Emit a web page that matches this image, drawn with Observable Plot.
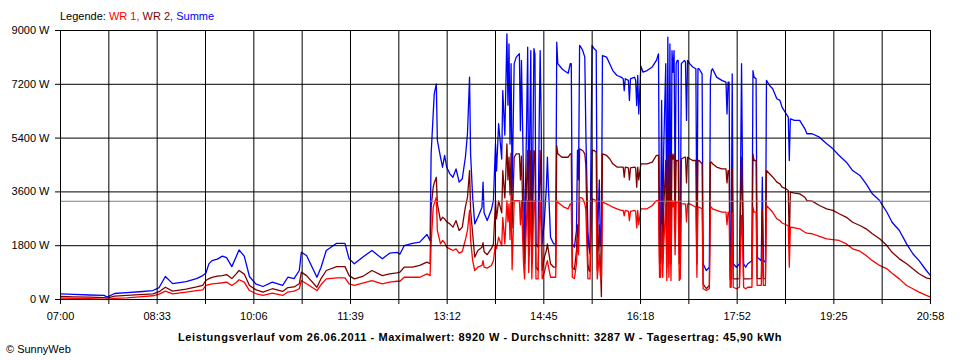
<!DOCTYPE html>
<html>
<head>
<meta charset="utf-8">
<script src="https://cdn.jsdelivr.net/npm/d3@7"></script>
<script src="https://cdn.jsdelivr.net/npm/@observablehq/plot@0.6"></script>
<style>
html,body{margin:0;padding:0;background:#fff;}
#wrap{position:relative;width:960px;height:360px;font-family:"Liberation Sans",Arial,sans-serif;font-size:11px;line-height:13px;color:#000;overflow:hidden;}
#chart{position:absolute;left:0;top:0;}
#legend{position:absolute;left:60px;top:10px;white-space:nowrap;}
#caption{position:absolute;left:0;width:960px;top:331px;text-align:center;font-weight:bold;white-space:nowrap;letter-spacing:0.57px;}
#copy{position:absolute;left:6px;top:343px;white-space:nowrap;}
</style>
</head>
<body>
<div id="wrap">
  <div id="chart"></div>
  <div id="legend"></div>
  <div id="caption"></div>
  <div id="copy"></div>
</div>
<script>
// minutes after 07:00
const minute = [0,13,28,42,45,52,64,76,89,95,
101,108,121,131,137,140,143,146,151,156,
160,165,169,172,177,182,188,195,204,214,
219,225,230,232,237,247,251,256,266,274,
278,283,291,300,310,317,324,327,331,339,
346,353,356,357,359,360,362,363,366,368,
370,372,375,378,381,384,387,390,392,394,
395,397,399,402,406,407,408,411,415,417,
419,420,422,425,426,428,430,431,432,433,
434,435,437,439,442,443,444,446,447,449,
450,451,453,454,456,457,458,460,461,462,
463,464,466,468,469,470,472,475,477,478,
479,483,485,489,491,492,493,495,497,498,
499,500,502,503,505,506,508,509,510,511,
512,514,516,517,519,520,521,522,526,529,
532,536,540,542,543,544,547,548,549,553,
554,555,556,557,559,561,565,570,574,576,
577,578,579,580,581,583,584,585,586,587,
588,589,590,591,592,593,594,595,596,597,
598,601,602,603,604,606,609,612,613,614,
615,618,619,622,625,626,627,628,632,637,
641,642,643,644,645,646,647,648,651,654,
655,656,657,658,660,662,666,667,668,670,
671,675,676,677,679,680,683,686,690,693,
695,699,701,702,703,707,712,717,719,724,
731,738,744,750,757,763,770,776,782,789,
796,801,808,815,821,827,834,838];

// Summe (W)
const summe = [190,170,150,140,80,200,230,260,300,400,
770,530,600,700,800,880,1200,1300,1350,1450,
1400,1100,1415,1660,1450,770,525,435,580,470,
745,700,970,1580,1470,745,1080,1640,1880,1880,
1360,1195,1415,1640,1360,1550,1580,1520,1800,1880,
1920,2175,1970,4875,6210,6880,7215,5320,4760,4425,
4820,4425,4205,4090,4370,3925,4040,4760,5545,7440,
4875,3420,2530,2750,3090,3925,2900,2640,3000,3310,
5210,4300,5880,4700,6990,5500,8890,6500,8555,5200,
7890,3650,7890,8110,8220,5650,8000,4000,1860,6000,
8440,3000,8330,1750,8390,8200,1860,1750,5650,8330,
6000,1860,2600,3760,4760,3760,2085,1860,1860,8610,
7890,7720,7660,7570,7890,7890,1860,1750,2310,5000,
4000,8500,8400,8330,8110,5650,2310,1750,1530,5000,
8500,8390,8330,1750,4000,1860,1750,8160,8110,7890,
7660,7495,7440,7385,6990,7385,7330,6660,7385,7440,
7330,6490,7495,6210,7810,7610,7660,7780,8000,8220,
1860,1860,6660,1860,5000,7890,1750,8780,1860,8555,
1750,8330,7600,8330,3700,7890,8000,8000,1750,1860,
7890,8000,7950,5990,8000,7890,7780,7720,1860,7720,
7720,7550,1195,970,1080,7330,7660,7720,7440,7330,
7270,6210,7270,7270,1195,1195,7550,1195,1080,1195,
4000,7890,4000,1195,1080,1195,1300,7660,7440,7385,
1415,1300,4090,1300,1250,7330,7160,7050,6715,6660,
6435,6210,6100,4650,6045,5990,5990,5710,5545,5545,
5430,5210,5040,4820,4595,4315,4150,3870,3535,3310,
2920,2585,2310,1860,1530,1300,970,800];

// WR 2 (W)
const wr2 = [100,90,80,60,45,110,135,160,190,260,
410,280,350,420,470,635,700,740,780,800,
835,700,850,970,850,470,330,245,360,270,
400,420,525,915,800,410,700,970,1100,1100,
800,690,770,970,800,860,890,915,1080,1080,
1140,1250,1195,3090,3760,3900,4090,3200,2640,2750,
2700,2600,2530,2420,2640,2310,2420,3100,3420,4315,
3000,2200,1415,1640,1750,1900,1600,1500,1700,1860,
3310,2700,3300,2900,4315,3400,5210,4000,4760,3500,
4900,2400,4760,4875,4875,4000,4800,2000,1195,4000,
4985,1500,4985,1195,4985,4875,1080,970,3000,4985,
3500,970,1400,1640,1860,1640,1195,1080,1080,5150,
4875,4760,4760,4760,4875,4875,1080,1000,1640,2500,
2000,5040,5000,4985,4875,4500,1200,970,940,3000,
4985,4985,4930,970,2500,1200,100,4875,4820,4710,
4540,4430,4430,4430,4090,4430,4400,4000,4400,4430,
4400,3760,4430,4000,4540,4540,4540,4595,4820,4820,
1195,1195,3800,1195,3000,4650,1080,4875,1195,4875,
1195,4875,4700,4875,2500,4650,4650,4650,1195,1195,
4700,4760,4760,3900,4760,4710,4650,4650,1195,4650,
4650,4540,525,360,470,4595,4595,4540,4430,4370,
4370,3900,4315,4315,690,690,4400,690,690,700,
3000,4760,3000,690,690,690,700,4875,4650,4650,
700,700,3000,700,700,4315,4205,4100,3925,3870,
3760,3700,3650,1920,3590,3560,3535,3420,3310,3290,
3145,3035,2980,2870,2750,2585,2475,2365,2200,2030,
1805,1580,1360,1195,1025,860,725,690];

// WR 1 (W)
const wr1 = [45,40,30,10,0,40,55,90,125,180,
280,190,250,300,325,470,500,520,540,560,
580,470,560,660,580,300,200,135,210,135,
250,280,360,635,525,300,500,690,725,725,
525,470,545,635,525,580,610,610,745,745,
745,860,800,1860,3090,3200,3420,2310,1860,1975,
1900,1750,1695,1640,1695,1550,1600,2000,2310,2980,
2000,1300,970,1080,1140,1300,1080,1050,1140,1300,
1860,1700,2085,1800,2750,1860,3310,2600,3200,2000,
3535,1000,3310,3310,3310,2500,3310,1200,690,2800,
3310,900,3310,690,3310,3255,690,690,2500,3310,
2200,690,900,1195,1300,1100,745,745,745,3310,
3250,3145,3090,3035,3200,3200,745,700,1195,2000,
1500,3420,3400,3370,3200,3000,700,690,690,2000,
3370,3340,3310,690,1500,800,690,3255,3200,3145,
3090,3035,2980,2980,2800,2980,2950,2640,2950,2980,
2950,2400,2980,2500,3035,3035,3035,3145,3310,3310,
745,745,2500,745,1800,3200,635,3310,745,3310,
635,3310,3100,3310,1500,3255,3255,3255,635,700,
3200,3200,3200,2600,3200,3200,3145,3090,745,3090,
3090,3035,360,300,360,3090,3090,3035,2980,2920,
2920,2500,2920,2920,410,410,2900,410,360,410,
1500,2810,2000,410,360,410,410,3090,2920,2920,
470,470,1800,470,470,3145,3035,2920,2700,2640,
2560,2500,2475,1080,2420,2400,2365,2250,2220,2200,
2110,2030,2000,1975,1860,1695,1615,1470,1300,1140,
1025,880,690,470,360,245,135,80];

const yTicks = [0, 1800, 3600, 5400, 7200, 9000];
const xLabels = ["07:00","08:33","10:06","11:39","13:12","14:45","16:18","17:52","19:25","20:58"];
const average = 3287;
const seriesNames = ["WR 1", "WR 2", "Summe"];
const seriesColors = ["#ff0000", "#800000", "#0000ff"];
const captionText = "Leistungsverlauf vom 26.06.2011 - Maximalwert: 8920 W - Durchschnitt: 3287 W - Tagesertrag: 45,90 kWh";
const copyText = "\u00A9 SunnyWeb";

if (minute.length !== summe.length || minute.length !== wr1.length || minute.length !== wr2.length) {
  throw new Error("length mismatch " + [minute.length, summe.length, wr2.length, wr1.length].join(","));
}

const toMin = s => { const [h, m] = s.split(":").map(Number); return h * 60 + m - 420; };
const xEnd = toMin(xLabels[xLabels.length - 1]);
const step = xEnd / 18;
const xGrid = d3.range(19).map(i => i * step);

const rows = minute.map((m, i) => ({minute: m, summe: summe[i], wr2: wr2[i], wr1: wr1[i]}));

const chart = Plot.plot({
  width: 960,
  height: 360,
  marginLeft: 60,
  marginRight: 30,
  marginTop: 30,
  marginBottom: 61,
  style: {fontFamily: "'Liberation Sans', Arial, sans-serif", fontSize: "11px", background: "#fff", color: "#000"},
  x: {domain: [0, xEnd]},
  y: {domain: [0, 9000]},
  marks: [
    Plot.line(rows, {x: "minute", y: "summe", stroke: seriesColors[2], strokeWidth: 1.3}),
    Plot.line(rows, {x: "minute", y: "wr2", stroke: seriesColors[1], strokeWidth: 1.3}),
    Plot.line(rows, {x: "minute", y: "wr1", stroke: seriesColors[0], strokeWidth: 1.3}),
    Plot.ruleY([average], {stroke: "#808080", strokeWidth: 1}),
    Plot.gridX(xGrid, {stroke: "#000", strokeOpacity: 1, strokeWidth: 1}),
    Plot.gridY(yTicks, {stroke: "#000", strokeOpacity: 1, strokeWidth: 1}),
    Plot.axisX(xGrid, {
      tickSize: 5, tickPadding: 8, label: null,
      tickFormat: d => { const k = Math.round(d / step); return k % 2 ? "" : xLabels[k / 2]; }
    }),
    Plot.axisY(yTicks, {tickSize: 5, tickPadding: 6, label: null, tickFormat: d => d + " W"})
  ]
});
document.getElementById("chart").appendChild(chart);

const legend = document.getElementById("legend");
legend.appendChild(document.createTextNode("Legende: "));
seriesNames.forEach((name, i) => {
  const s = document.createElement("span");
  s.style.color = seriesColors[i];
  s.textContent = name + (i < seriesNames.length - 1 ? ", " : "");
  legend.appendChild(s);
});
document.getElementById("caption").textContent = captionText;
document.getElementById("copy").textContent = copyText;
</script>
</body>
</html>
